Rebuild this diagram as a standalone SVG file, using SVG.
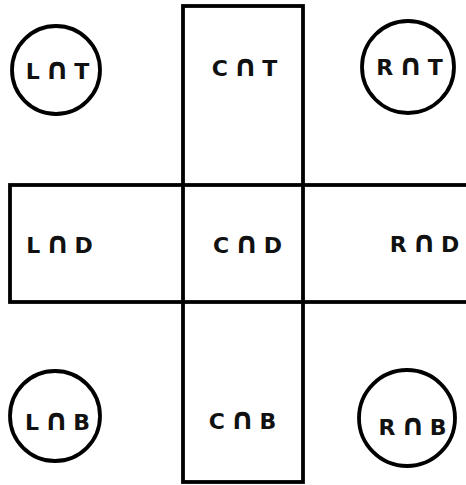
<svg xmlns="http://www.w3.org/2000/svg" width="466" height="485" viewBox="0 0 466 485">
<style>
.box{fill:none;stroke:#000;stroke-width:3.8}
.ring{fill:#fff;stroke:#000;stroke-width:3.8}
.lbl{font-family:"DejaVu Sans","Liberation Sans",sans-serif;font-weight:bold;font-size:22px;letter-spacing:5px;text-anchor:middle;fill:#111}
.cap{font-size:30px;font-weight:bold}
</style>
<rect width="466" height="485" fill="#fff"/>
<g id="frame">
<rect class="box" x="10" y="185" width="470" height="117"/>
<rect class="box" x="183" y="6" width="120" height="476"/>
</g>
<g id="connectors"></g>
<g id="LNT"><circle class="ring" cx="56" cy="70" r="44"/><text class="lbl" x="60" y="79">L<tspan class="cap">∩</tspan>T</text></g>
<g id="CNT"><text class="lbl" x="247" y="76">C<tspan class="cap">∩</tspan>T</text></g>
<g id="RNT"><circle class="ring" cx="408" cy="67" r="46"/><text class="lbl" x="412" y="75">R<tspan class="cap">∩</tspan>T</text></g>
<g id="LND"><text class="lbl" x="62" y="253">L<tspan class="cap">∩</tspan>D</text></g>
<g id="CND"><text class="lbl" x="250" y="253">C<tspan class="cap">∩</tspan>D</text></g>
<g id="RND"><text class="lbl" x="427" y="252">R<tspan class="cap">∩</tspan>D</text></g>
<g id="LNB"><circle class="ring" cx="55" cy="416" r="45"/><text class="lbl" x="60" y="430">L<tspan class="cap">∩</tspan>B</text></g>
<g id="CNB"><text class="lbl" x="245" y="429">C<tspan class="cap">∩</tspan>B</text></g>
<g id="RNB"><circle class="ring" cx="407" cy="418" r="48"/><text class="lbl" x="415" y="435">R<tspan class="cap">∩</tspan>B</text></g>
</svg>
